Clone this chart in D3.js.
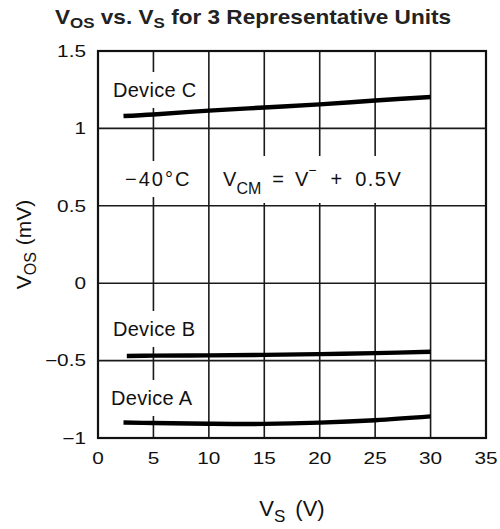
<!DOCTYPE html>
<html><head><meta charset="utf-8">
<script src="https://cdn.jsdelivr.net/npm/d3@7"></script>
<style>body{margin:0;background:#fff}svg{display:block}</style>
</head><body><svg id="c" width="500" height="529"></svg>
<script>
// ---- data ----
const vsA = [2.3, 5, 10, 15, 20, 25, 30];
const deviceA = [-0.900, -0.903, -0.908, -0.909, -0.901, -0.885, -0.860];
const vsB = [2.6, 5, 10, 15, 20, 25, 30];
const deviceB = [-0.470, -0.468, -0.466, -0.463, -0.458, -0.452, -0.443];
const vsC = [2.3, 5, 10, 15, 20, 25, 30];
const deviceC = [1.080, 1.090, 1.115, 1.135, 1.155, 1.180, 1.203];
const xTicks = [0, 5, 10, 15, 20, 25, 30, 35];
const xTickLabels = ["0", "5", "10", "15", "20", "25", "30", "35"];
const yTicks = [-1, -0.5, 0, 0.5, 1, 1.5];
const yTickLabels = ["\u22121", "\u22120.5", "0", "0.5", "1", "1.5"];
const seriesNames = ["Device A", "Device B", "Device C"];
// label anchors (data coordinates: V_S, V_OS)
const labelX = [1.17, 1.35, 1.35];
const labelY = [-0.787, -0.341, 1.203];
const tempLabel = "\u221240\u00B0C";
const tempPos = [2.44, 0.628];
const vcmPos = [11.28, 0.628];

// ---- layout ----
const svg = d3.select("#c");
const x = d3.scaleLinear().domain([0, 35]).range([98, 486]);
const y = d3.scaleLinear().domain([-1, 1.5]).range([438, 51]);
const SANS = "'Liberation Sans', Arial, Helvetica, sans-serif";

const gridL = svg.append("g");
const maskL = svg.append("g");
const frameL = svg.append("g");
const curveL = svg.append("g");
const textL = svg.append("g").attr("font-family", SANS).attr("fill", "#111");

// grid
gridL.selectAll("line.v").data(xTicks.slice(1, -1)).join("line")
  .attr("x1", d => x(d)).attr("x2", d => x(d))
  .attr("y1", y(1.5)).attr("y2", y(-1))
  .attr("stroke", "#1a1a1a").attr("stroke-width", 1.6);
gridL.selectAll("line.h").data(yTicks.slice(1, -1)).join("line")
  .attr("x1", x(0)).attr("x2", x(35))
  .attr("y1", d => y(d)).attr("y2", d => y(d))
  .attr("stroke", "#1a1a1a").attr("stroke-width", 1.6);

frameL.append("rect")
  .attr("x", x(0)).attr("y", y(1.5))
  .attr("width", x(35) - x(0)).attr("height", y(-1) - y(1.5))
  .attr("fill", "none").attr("stroke", "#111").attr("stroke-width", 2.2);

// curves
const line = d3.line().x(d => x(d[0])).y(d => y(d[1])).curve(d3.curveCatmullRom.alpha(0.5));
const series = [[vsA, deviceA], [vsB, deviceB], [vsC, deviceC]];
curveL.selectAll("path").data(series).join("path")
  .attr("d", s => line(s[0].map((v, i) => [v, s[1][i]])))
  .attr("fill", "none").attr("stroke", "#000").attr("stroke-width", 4.4);

// helper: mask grid behind a text element
function mask(t, padX, padY) {
  const b = t.node().getBBox();
  maskL.append("rect")
    .attr("x", b.x - padX).attr("y", b.y - padY)
    .attr("width", b.width + 2 * padX).attr("height", b.height + 2 * padY)
    .attr("fill", "#fff");
}

// device labels
seriesNames.forEach((n, i) => {
  const t = textL.append("text")
    .attr("x", x(labelX[i])).attr("y", y(labelY[i]))
    .attr("font-size", 20).attr("letter-spacing", 0.3).text(n);
  mask(t, 3, 7);
});

// temperature label
const tt = textL.append("text")
  .attr("x", x(tempPos[0])).attr("y", y(tempPos[1]))
  .attr("font-size", 20).attr("letter-spacing", 2).text(tempLabel);
mask(tt, 3, 7);

// V_CM label
const vc = textL.append("text")
  .attr("x", x(vcmPos[0])).attr("y", y(vcmPos[1])).attr("font-size", 20);
vc.append("tspan").text("V");
vc.append("tspan").attr("font-size", 16).attr("dy", 8).text("CM");
vc.append("tspan").attr("dy", -8).attr("dx", 11).text("=");
vc.append("tspan").attr("dx", 11).text("V");
vc.append("tspan").attr("font-size", 14).attr("dy", -11).text("\u2212");
vc.append("tspan").attr("dy", 11).attr("dx", 14).text("+");
vc.append("tspan").attr("dx", 13).attr("letter-spacing", 1.5).text("0.5V");
mask(vc, 3, 6);

// tick labels
yTicks.forEach((v, i) => {
  textL.append("g").attr("transform", `translate(86,${y(v)}) scale(1.3,1)`)
    .append("text").attr("text-anchor", "end").attr("dy", "0.36em")
    .attr("font-size", 16).text(yTickLabels[i]);
});
xTicks.forEach((v, i) => {
  textL.append("g").attr("transform", `translate(${x(v)},464) scale(1.3,1)`)
    .append("text").attr("text-anchor", "middle")
    .attr("font-size", 16).text(xTickLabels[i]);
});

// axis titles
const xt = textL.append("text").attr("x", 292).attr("y", 516)
  .attr("text-anchor", "middle").attr("font-size", 22);
xt.append("tspan").text("V");
xt.append("tspan").attr("font-size", 17).attr("dy", 6).text("S");
xt.append("tspan").attr("dy", -6).attr("dx", 10).text("(V)");

const yt = textL.append("text")
  .attr("transform", `translate(31,${(y(1.5) + y(-1)) / 2}) rotate(-90)`)
  .attr("text-anchor", "middle").attr("font-size", 21);
yt.append("tspan").text("V");
yt.append("tspan").attr("font-size", 16).attr("dy", 5).text("OS");
yt.append("tspan").attr("dy", -5).attr("dx", 7).text("(mV)");

// title
const ti = textL.append("g").attr("transform", "translate(253,24) scale(1.13,1)")
  .append("text").attr("text-anchor", "middle")
  .attr("font-size", 20).attr("font-weight", "bold").attr("fill", "#222");
ti.append("tspan").text("V");
ti.append("tspan").attr("font-size", 15).attr("dy", 3.5).text("OS");
ti.append("tspan").attr("dy", -3.5).text(" vs. V");
ti.append("tspan").attr("font-size", 15).attr("dy", 3.5).text("S");
ti.append("tspan").attr("dy", -3.5).text(" for 3 Representative Units");
</script></body></html>
